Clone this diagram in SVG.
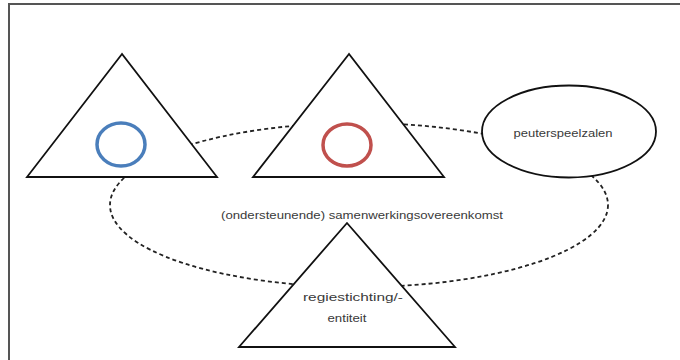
<svg xmlns="http://www.w3.org/2000/svg" width="680" height="360" viewBox="0 0 680 360">
<style>
.shape{fill:#fff;stroke:#111;stroke-width:1.8;stroke-linejoin:miter}
.dash{fill:none;stroke:#222;stroke-width:1.8;stroke-dasharray:4 3}
.lbl{font-family:"Liberation Sans","DejaVu Sans",sans-serif;font-size:11.5px;fill:#3a3a3a;text-anchor:middle}
</style>
<rect x="0" y="0" width="680" height="360" fill="#fff"/>
<path d="M9 360 V4 H680" fill="none" stroke="#555" stroke-width="2"/>
<g id="connectors">
<ellipse class="dash" cx="359" cy="205" rx="249" ry="82"/>
</g>
<g id="label-overeenkomst">
<text class="lbl" x="362" y="219" textLength="282" lengthAdjust="spacingAndGlyphs">(ondersteunende) samenwerkingsovereenkomst</text>
</g>
<g id="triangle-left">
<polygon class="shape" points="122,54 27,177 217,177"/>
<ellipse cx="121" cy="144.5" rx="24" ry="21.5" fill="none" stroke="#4a7ebb" stroke-width="3.5"/>
</g>
<g id="triangle-middle">
<polygon class="shape" points="349,54 253,177 444,177"/>
<ellipse cx="347" cy="145" rx="24" ry="21" fill="none" stroke="#c0504d" stroke-width="3.5"/>
</g>
<g id="peuterspeelzalen">
<ellipse class="shape" cx="569" cy="131.5" rx="87" ry="46"/>
<text class="lbl" x="563" y="137" textLength="99" lengthAdjust="spacingAndGlyphs">peuterspeelzalen</text>
</g>
<g id="regiestichting">
<polygon class="shape" points="347,223 239,347 455,347"/>
<text class="lbl" x="353" y="301" textLength="100" lengthAdjust="spacingAndGlyphs">regiestichting/-</text>
<text class="lbl" x="347" y="322" textLength="39" lengthAdjust="spacingAndGlyphs">entiteit</text>
</g>
</svg>
